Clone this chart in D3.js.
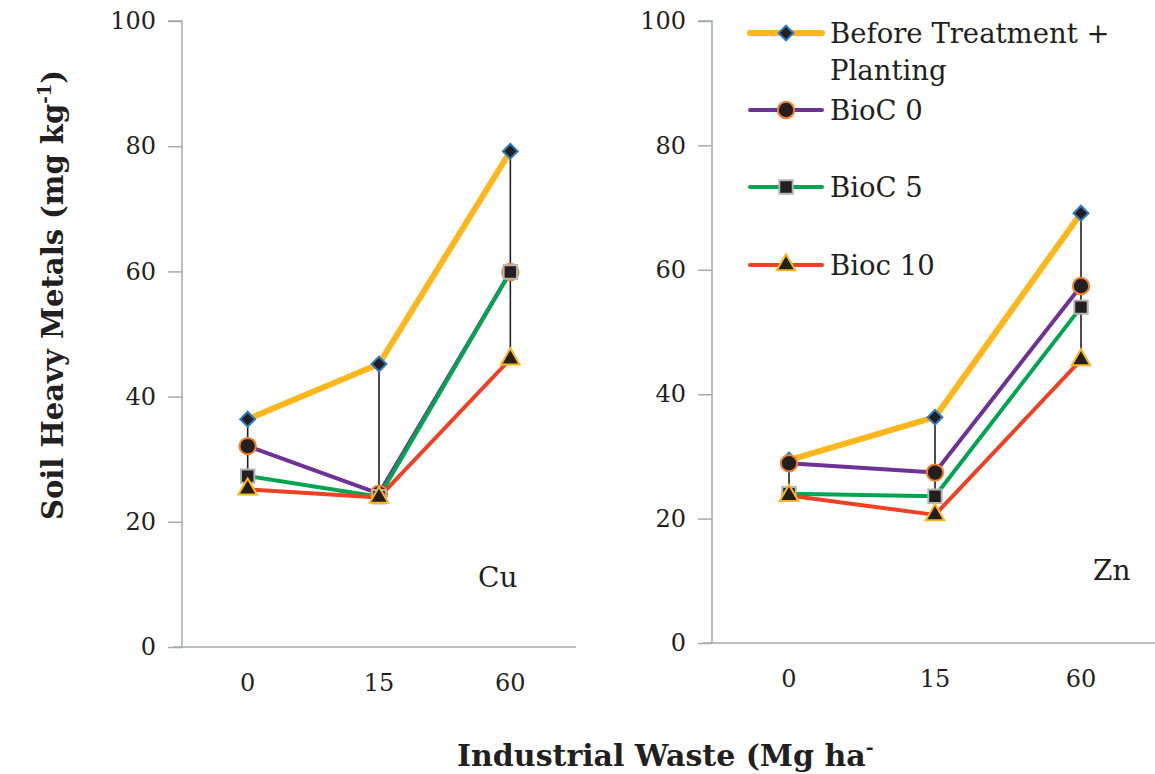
<!DOCTYPE html>
<html>
<head>
<meta charset="utf-8">
<script src="https://cdn.jsdelivr.net/npm/d3@7"></script>
<style>
  body { margin:0; background:#fff; }
  svg text { font-family: "DejaVu Serif", "Liberation Serif", serif; fill:#231f20; }
</style>
</head>
<body>
<svg id="svg0" width="1155" height="774"></svg>
<script>
// data
var doses = ["0", "15", "60"];
var yTicks = [0, 20, 40, 60, 80, 100];
var seriesNames = ["Before Treatment + Planting", "BioC 0", "BioC 5", "Bioc 10"];
var cuBefore = [36.4, 45.2, 79.2];
var cuBioC0  = [32.1, 24.5, 59.9];
var cuBioC5  = [27.3, 24.0, 59.9];
var cuBioC10 = [25.2, 23.9, 46.0];
var znBefore = [29.4, 36.3, 69.1];
var znBioC0  = [28.9, 27.4, 57.4];
var znBioC5  = [24.0, 23.6, 54.0];
var znBioC10 = [23.7, 20.6, 45.5];

var lineCol = ["#fdb71b", "#6e3296", "#00a551", "#ee4023"];
var lineW   = [6, 4, 4, 4];
var mkStroke = ["#2e7bc4", "#f47f2a", "#b3b3b3", "#fdb71b"];
var mkType = [d3.symbolSquare, d3.symbolCircle, d3.symbolSquare, d3.symbolTriangle];
var mkSize = [110, 210, 180, 150];
var mkRot = [45, 0, 0, 0];

var svg = d3.select("#svg0");

function panel(opt){
  var x = d3.scaleBand().domain(doses).range([opt.b0, opt.b1]);
  var y = d3.scaleLinear().domain([0, 100]).range([opt.yb, 21]);
  var g = svg.append("g");

  // y axis
  var ya = g.append("g").attr("transform", "translate(" + opt.x0 + ",0)")
    .call(d3.axisLeft(y).tickValues(yTicks).tickSize(14).tickPadding(12));
  ya.select(".domain").attr("stroke", "#a7a9ac").attr("stroke-width", 1.5).attr("d", "M0," + opt.yb + "V21h-14");
  ya.selectAll(".tick line").attr("stroke", "#a7a9ac").attr("stroke-width", 1.5);
  ya.selectAll(".tick text").style("font-size", "24px").attr("fill", "#231f20");

  // x axis
  var xa = g.append("g").attr("transform", "translate(0," + opt.yb + ")")
    .call(d3.axisBottom(x).tickSize(0).tickPadding(27));
  xa.select(".domain").attr("stroke", "#a7a9ac").attr("stroke-width", 1.5)
    .attr("d", "M" + (opt.x0 - 9) + ",0H" + opt.xe);
  xa.selectAll(".tick text").style("font-size", "24px").attr("fill", "#231f20");

  var cx = function(i){ return x(doses[i]) + x.bandwidth() / 2; };

  // high-low lines
  doses.forEach(function(d, i){
    var vals = opt.data.map(function(s){ return s[i]; });
    g.append("line")
      .attr("x1", cx(i)).attr("x2", cx(i))
      .attr("y1", y(d3.max(vals))).attr("y2", y(d3.min(vals)))
      .attr("stroke", "#231f20").attr("stroke-width", 1.6);
  });

  var line = d3.line().x(function(d, i){ return cx(i); }).y(function(d){ return y(d); });
  opt.data.forEach(function(s, k){
    g.append("path").datum(s).attr("d", line)
      .attr("fill", "none").attr("stroke", lineCol[k]).attr("stroke-width", lineW[k])
      .attr("stroke-linejoin", "round");
  });
  opt.data.forEach(function(s, k){
    g.selectAll(null).data(s).enter().append("path")
      .attr("d", d3.symbol().type(mkType[k]).size(mkSize[k]))
      .attr("transform", function(d, i){ return "translate(" + cx(i) + "," + y(d) + ") rotate(" + mkRot[k] + ")"; })
      .attr("fill", "#231f20").attr("stroke", mkStroke[k]).attr("stroke-width", 2);
  });

  g.append("text").attr("x", opt.lx).attr("y", opt.ly).text(opt.label).style("font-size", "28px");
}

panel({x0: 182, b0: 182, b1: 576, xe: 576, yb: 647, data: [cuBefore, cuBioC0, cuBioC5, cuBioC10], label: "Cu", lx: 478, ly: 587});
panel({x0: 712, b0: 716, b1: 1154, xe: 1155, yb: 643, data: [znBefore, znBioC0, znBioC5, znBioC10], label: "Zn", lx: 1093, ly: 580});

// legend
var legY = [33, 110, 187, 265];
var leg = svg.append("g");
seriesNames.forEach(function(n, k){
  leg.append("line").attr("x1", 750).attr("x2", 822).attr("y1", legY[k]).attr("y2", legY[k])
    .attr("stroke", lineCol[k]).attr("stroke-width", lineW[k]).attr("stroke-linecap", "round");
  leg.append("path").attr("d", d3.symbol().type(mkType[k]).size(mkSize[k]))
    .attr("transform", "translate(786," + legY[k] + ") rotate(" + mkRot[k] + ")")
    .attr("fill", "#231f20").attr("stroke", mkStroke[k]).attr("stroke-width", 2);
});
var legText = [["Before Treatment +", "Planting"], ["BioC 0"], ["BioC 5"], ["Bioc 10"]];
legText.forEach(function(lines, k){
  lines.forEach(function(t, j){
    leg.append("text").attr("x", 830).attr("y", legY[k] + 10 + j * 37).text(t).style("font-size", "27.5px");
  });
});

// axis titles
svg.append("text").attr("transform", "translate(63,295) rotate(-90)")
  .attr("text-anchor", "middle").style("font-size", "29px").style("font-weight", "bold")
  .html("Soil Heavy Metals (mg kg<tspan dy='-12' style='font-size:18px'>-1</tspan><tspan dy='12'>)</tspan>");
svg.append("text").attr("x", 457).attr("y", 766).style("font-size", "30px").style("font-weight", "bold")
  .html("Industrial Waste (Mg ha<tspan dy='-12' style='font-size:19px'>-</tspan>");
</script>
</body>
</html>
